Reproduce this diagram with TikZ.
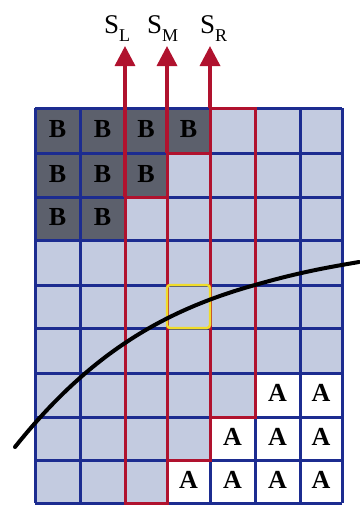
\documentclass[tikz,border=0pt]{standalone}
\usepackage{fontspec}
\setmainfont{Liberation Serif}
\usetikzlibrary{arrows.meta}
\definecolor{cellbg}{HTML}{C3CBE0}
\definecolor{bcell}{HTML}{5C606C}
\definecolor{gridblue}{HTML}{1C2C90}
\definecolor{stripred}{HTML}{B0122E}
\definecolor{yel}{HTML}{F0DC2A}
\begin{document}
\begin{tikzpicture}[x=1pt,y=-1pt,
  gridline/.style={draw=gridblue,line width=3pt},
  stripline/.style={draw=stripred,line width=3pt},
  arrowline/.style={draw=stripred,line width=3.5pt,-{Triangle[width=20pt,length=20pt]}},
  celltext/.style={font=\fontsize{26}{26}\selectfont\bfseries,inner sep=0pt},
  lbl/.style={font=\fontsize{27}{27}\selectfont,inner sep=0pt,anchor=base west},
  curve/.style={draw=black,line width=4pt,line cap=round},
  focus/.style={draw=yel,line width=2.5pt,rounded corners=3pt}]
\useasboundingbox (0,0) rectangle (359,506);
% background cells
\foreach \ya/\yb [count=\r from 0] in {108/153,153/197,197/240,240/285,285/328,328/373,373/417,417/460,460/503}{
  \foreach \xa/\xb [count=\c from 0] in {35/80,80/125,125/167,167/210,210/255,255/300,300/342}{
    \fill[cellbg] (\xa,\ya) rectangle (\xb,\yb);
    \coordinate (c-\r-\c) at ({(\xa+\xb)/2},{(\ya+\yb)/2});
    \coordinate (nw-\r-\c) at (\xa,\ya);
    \coordinate (se-\r-\c) at (\xb,\yb);
  }
}
% B cells
\foreach \r/\c in {0/0,0/1,0/2,0/3,1/0,1/1,1/2,2/0,2/1}{
  \fill[bcell] (nw-\r-\c) rectangle (se-\r-\c);
  \node[celltext,text=black] (b-\r-\c) at ([yshift=1pt]c-\r-\c) {B};
}
% A cells
\foreach \r/\c in {6/5,6/6,7/4,7/5,7/6,8/3,8/4,8/5,8/6}{
  \fill[white] (nw-\r-\c) rectangle (se-\r-\c);
  \node[celltext,text=black] (a-\r-\c) at ([yshift=2pt]c-\r-\c) {A};
}
% grid lines
\foreach \x in {35,80,125,167,210,255,300,342}{
  \draw[gridline] (\x,108) -- (\x,503);
}
\foreach \y in {108,153,197,240,285,328,373,417,460,503}{
  \draw[gridline] (35,\y) -- (342,\y);
}
% red strips
\coordinate (SLfoot) at (125,197);
\coordinate (SMfoot) at (167,153);
\coordinate (SRfoot) at (210,108);
\draw[stripline] (SLfoot) rectangle (167,503);
\draw[stripline] (SMfoot) rectangle (210,460);
\draw[stripline] (SRfoot) rectangle (255,417);
% focus cell
\draw[focus] (nw-4-3) rectangle (se-4-3);
% curve
\draw[curve] (15,447) .. controls (90,353) and (165,310) .. (255,285)
  .. controls (300,272) and (330,267) .. (359,262);
% labels and arrows
\node[lbl] (SL) at (104,33) {S\raisebox{-9pt}{\fontsize{18}{18}\selectfont L}};
\node[lbl] (SM) at (147,33) {S\raisebox{-9pt}{\fontsize{18}{18}\selectfont M}};
\node[lbl] (SR) at (200,33) {S\raisebox{-9pt}{\fontsize{18}{18}\selectfont R}};
\coordinate (SLtip) at (125,46);
\coordinate (SMtip) at (167,46);
\coordinate (SRtip) at (210,46);
\draw[arrowline] (SLfoot) -- (SLtip);
\draw[arrowline] (SMfoot) -- (SMtip);
\draw[arrowline] (SRfoot) -- (SRtip);
\end{tikzpicture}
\end{document}
